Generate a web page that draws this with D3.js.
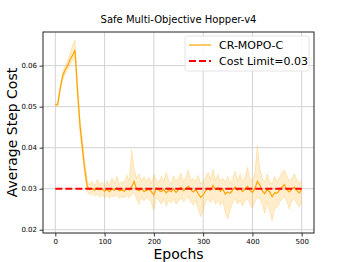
<!DOCTYPE html>
<html>
<head>
<meta charset="utf-8">
<script src="https://cdn.jsdelivr.net/npm/d3@7"></script>
<style>
  body { margin: 0; background: #fff; }
  svg { font-family: "DejaVu Sans", sans-serif; }
</style>
</head>
<body>
<svg id="chart"></svg>
<script>
const epochs = d3.range(0, 501, 5);

const meanCost = [
  .0504, .0506, .0545, .0575, .0590, .0600, .0615, .0625, .0638, .0540,
  .0455, .0400, .0345, .0305, .0298, .0300, .0296, .0302, .0297, .0299,
  .0294, .0298, .0293, .0300, .0296, .0302, .0295, .0297, .0294, .0300,
  .0297, .0305, .0318, .0298, .0295, .0300, .0293, .0296, .0299, .0292,
  .0285, .0302, .0296, .0293, .0298, .0290, .0296, .0293, .0299, .0291,
  .0297, .0303, .0295, .0300, .0306, .0297, .0292, .0298, .0288, .0279,
  .0285, .0295, .0301, .0296, .0308, .0298, .0302, .0294, .0299, .0287,
  .0292, .0289, .0297, .0304, .0296, .0301, .0293, .0299, .0306, .0296,
  .0291, .0300, .0318, .0309, .0295, .0288, .0298, .0292, .0281, .0290,
  .0289, .0296, .0303, .0310, .0297, .0292, .0299, .0304, .0296, .0290,
  .0298
];

const upperCost = [
  .0508, .0512, .0552, .0585, .0600, .0612, .0630, .0650, .0662, .0560,
  .0475, .0420, .0362, .0318, .0310, .0318, .0306, .0322, .0310, .0316,
  .0305, .0320, .0308, .0326, .0312, .0330, .0310, .0318, .0315, .0334,
  .0318, .0395, .0350, .0325, .0336, .0318, .0330, .0315, .0328, .0312,
  .0335, .0322, .0316, .0330, .0318, .0340, .0320, .0312, .0332, .0318,
  .0326, .0338, .0316, .0330, .0345, .0320, .0325, .0318, .0333, .0312,
  .0318, .0328, .0340, .0322, .0348, .0320, .0335, .0318, .0326, .0315,
  .0330, .0312, .0325, .0342, .0320, .0336, .0318, .0328, .0352, .0325,
  .0318, .0338, .0405, .0350, .0325, .0315, .0335, .0320, .0312, .0330,
  .0318, .0326, .0340, .0346, .0330, .0318, .0325, .0336, .0322, .0315,
  .0320
];

const lowerCost = [
  .0500, .0500, .0538, .0566, .0580, .0590, .0602, .0612, .0622, .0522,
  .0438, .0382, .0330, .0292, .0285, .0288, .0282, .0286, .0280, .0284,
  .0279, .0282, .0276, .0284, .0280, .0285, .0276, .0280, .0278, .0283,
  .0278, .0285, .0290, .0275, .0262, .0280, .0270, .0278, .0275, .0265,
  .0248, .0278, .0272, .0262, .0275, .0258, .0272, .0265, .0276, .0262,
  .0270, .0278, .0268, .0274, .0280, .0268, .0260, .0272, .0250, .0232,
  .0246, .0268, .0274, .0265, .0278, .0262, .0272, .0260, .0270, .0240,
  .0226, .0248, .0266, .0276, .0262, .0272, .0258, .0270, .0275, .0264,
  .0252, .0268, .0280, .0275, .0262, .0240, .0268, .0245, .0222, .0250,
  .0255, .0266, .0274, .0280, .0268, .0250, .0270, .0276, .0264, .0255,
  .0270
];

const costLimit = 0.03;
const xTicks = [0, 100, 200, 300, 400, 500];
const yTicks = [0.02, 0.03, 0.04, 0.05, 0.06];
const legendLabels = ['CR-MOPO-C', 'Cost Limit=0.03'];

const width = 349;
const height = 262;
const margin = { left: 43, right: 35, top: 32, bottom: 29 };

const svg = d3.select('#chart').attr('width', width).attr('height', height);

const x = d3.scaleLinear().domain([-25, 525]).range([margin.left, width - margin.right]);
const y = d3.scaleLinear().domain([0.0192, 0.0682]).range([height - margin.bottom, margin.top]);

const data = epochs.map((e, i) => ({ e, m: meanCost[i], hi: upperCost[i], lo: lowerCost[i] }));

// grid
svg.append('g')
  .selectAll('line')
  .data(xTicks)
  .join('line')
  .attr('x1', d => x(d)).attr('x2', d => x(d))
  .attr('y1', margin.top).attr('y2', height - margin.bottom)
  .attr('stroke', '#d3d3d3').attr('stroke-width', 1);

svg.append('g')
  .selectAll('line')
  .data(yTicks)
  .join('line')
  .attr('x1', margin.left).attr('x2', width - margin.right)
  .attr('y1', d => y(d)).attr('y2', d => y(d))
  .attr('stroke', '#d3d3d3').attr('stroke-width', 1);

// shaded band
const area = d3.area()
  .x(d => x(d.e))
  .y0(d => y(d.lo))
  .y1(d => y(d.hi));

svg.append('path')
  .datum(data)
  .attr('d', area)
  .attr('fill', 'orange')
  .attr('fill-opacity', 0.2);

['hi', 'lo'].forEach(k => {
  svg.append('path')
    .datum(data)
    .attr('d', d3.line().x(d => x(d.e)).y(d => y(d[k])))
    .attr('fill', 'none').attr('stroke', 'orange').attr('stroke-opacity', 0.25).attr('stroke-width', 0.8);
});

// mean line
svg.append('path')
  .datum(data)
  .attr('d', d3.line().x(d => x(d.e)).y(d => y(d.m)))
  .attr('fill', 'none')
  .attr('stroke', 'orange')
  .attr('stroke-width', 1.2);

// cost limit
svg.append('line')
  .attr('x1', x(0)).attr('x2', x(500))
  .attr('y1', y(costLimit)).attr('y2', y(costLimit))
  .attr('stroke', 'red')
  .attr('stroke-width', 2)
  .attr('stroke-dasharray', '7,3');

// axes
const xAxis = d3.axisBottom(x).tickValues(xTicks).tickSize(3.5).tickPadding(2.5);
const yAxis = d3.axisLeft(y).tickValues(yTicks).tickFormat(d3.format('.2f')).tickSize(3.5).tickPadding(2.5);

const gx = svg.append('g')
  .attr('transform', 'translate(0,' + (height - margin.bottom) + ')')
  .call(xAxis);
const gy = svg.append('g')
  .attr('transform', 'translate(' + margin.left + ',0)')
  .call(yAxis);

[gx, gy].forEach(g => {
  g.select('.domain').remove();
  g.selectAll('text').style('font-size', '7px').attr('fill', '#000');
  g.selectAll('line').attr('stroke', '#000').attr('stroke-width', 0.8);
  g.attr('font-family', null);
});

// frame
svg.append('rect')
  .attr('x', margin.left).attr('y', margin.top)
  .attr('width', width - margin.left - margin.right)
  .attr('height', height - margin.top - margin.bottom)
  .attr('fill', 'none')
  .attr('stroke', '#222')
  .attr('stroke-width', 1);

// labels
svg.append('text')
  .attr('x', (margin.left + width - margin.right) / 2)
  .attr('y', 22.5)
  .attr('text-anchor', 'middle')
  .style('font-size', '10px')
  .text('Safe Multi-Objective Hopper-v4');

svg.append('text')
  .attr('x', (margin.left + width - margin.right) / 2)
  .attr('y', 259)
  .attr('text-anchor', 'middle')
  .style('font-size', '14px')
  .text('Epochs');

svg.append('text')
  .attr('transform', 'translate(17,' + ((margin.top + height - margin.bottom) / 2) + ') rotate(-90)')
  .attr('text-anchor', 'middle')
  .style('font-size', '14px')
  .text('Average Step Cost');

// legend
const legend = svg.append('g');
legend.append('rect')
  .attr('x', 185).attr('y', 36)
  .attr('width', 124).attr('height', 35)
  .attr('rx', 2.5)
  .attr('fill', '#fff').attr('fill-opacity', 0.8)
  .attr('stroke', '#ddd').attr('stroke-width', 0.8);

legend.append('line')
  .attr('x1', 189).attr('x2', 211).attr('y1', 45).attr('y2', 45)
  .attr('stroke', 'orange').attr('stroke-width', 1.2);
legend.append('line')
  .attr('x1', 189).attr('x2', 211).attr('y1', 61).attr('y2', 61)
  .attr('stroke', 'red').attr('stroke-width', 2).attr('stroke-dasharray', '7,3');

legend.selectAll('text')
  .data(legendLabels)
  .join('text')
  .attr('x', 219)
  .attr('y', (d, i) => 49 + i * 16)
  .style('font-size', '11px')
  .text(d => d);
</script>
</body>
</html>
